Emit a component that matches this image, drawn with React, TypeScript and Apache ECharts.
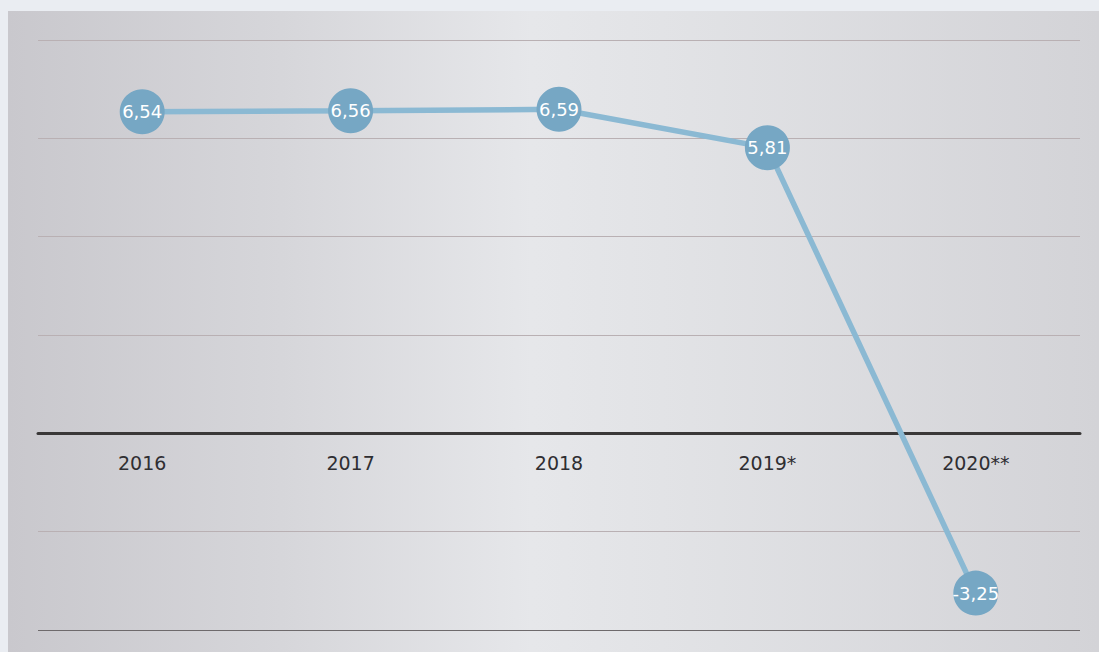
import React, { useEffect, useRef } from "react";
import * as echarts from "echarts";

const categories = ["2016", "2017", "2018", "2019*", "2020**"];
const values = [6.54, 6.56, 6.59, 5.81, -3.25];
const valueLabels = ["6,54", "6,56", "6,59", "5,81", "-3,25"];
const baseline = [0, 0, 0, 0, 0];

export default function App() {
  const ref = useRef<HTMLDivElement>(null);
  useEffect(() => {
    if (!ref.current) return;
    const chart = echarts.init(ref.current, null, { renderer: "svg" });
    chart.setOption({
      animation: false,
      backgroundColor: "transparent",
      graphic: [
        {
          type: "rect",
          z: -10,
          silent: true,
          shape: { x: 8, y: 11, width: 1091, height: 641 },
          style: {
            fill: new echarts.graphic.LinearGradient(0, 0, 1, 0, [
              { offset: 0, color: "#c9c8cd" },
              { offset: 0.25, color: "#d6d6da" },
              { offset: 0.48, color: "#e6e7ea" },
              { offset: 0.6, color: "#e2e3e6" },
              { offset: 1, color: "#d3d3d7" },
            ]),
          },
        },
      ],
      grid: { left: 38, right: 19, top: 40, bottom: 22, containLabel: false, outerBoundsMode: "none" },
      xAxis: {
        type: "category",
        data: categories,
        boundaryGap: true,
        axisLine: { onZero: true, lineStyle: { color: "#3a3838", width: 3 } },
        axisTick: { show: false },
        axisLabel: { show: false },
        splitLine: { show: false },
      },
      yAxis: {
        type: "value",
        min: -4,
        max: 8,
        interval: 2,
        axisLabel: { show: false },
        axisLine: { show: false },
        axisTick: { show: false },
        splitLine: {
          show: true,
          lineStyle: {
            color: ["#6e6a6c", "#b9b0b3", "#b9b0b3", "#b9b0b3", "#b9b0b3", "#b9b0b3", "#b9b0b3"],
            width: 1,
          },
        },
      },
      series: [
        {
          type: "scatter",
          data: baseline,
          symbolSize: 0,
          silent: true,
          label: {
            show: true,
            position: "bottom",
            distance: 20,
            fontSize: 19,
            color: "#2f2e32",
            opacity: 1,
            fontFamily: "DejaVu Sans",
            formatter: (p: any) => categories[p.dataIndex],
          },
          z: 1,
        },
        {
          type: "line",
          data: values,
          symbol: "circle",
          symbolSize: 45,
          lineStyle: { color: "#8bb9d3", width: 5.5 },
          itemStyle: { color: "#76a7c4" },
          label: {
            show: true,
            position: "inside",
            color: "#ffffff",
            fontSize: 18,
            fontFamily: "DejaVu Sans",
            formatter: (p: any) => valueLabels[p.dataIndex],
          },
          z: 5,
        },
      ],
    });
    return () => chart.dispose();
  }, []);
  return (
    <div
      style={{
        position: "fixed",
        left: 0,
        top: 0,
        width: 1099,
        height: 652,
        background: "#eaedf2",
      }}
    >
      <div ref={ref} style={{ width: 1099, height: 652 }} />
    </div>
  );
}
